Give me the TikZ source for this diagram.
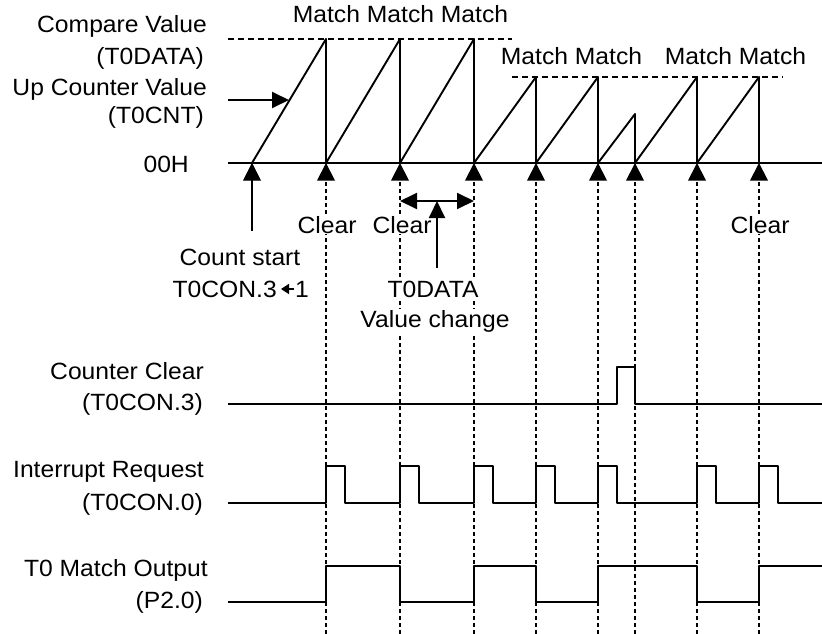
\documentclass[tikz,border=0pt]{standalone}
\usepackage{fontspec}
\setmainfont{Liberation Sans}[FakeStretch=1.05]
\usetikzlibrary{arrows.meta}
\begin{document}
\begin{tikzpicture}[x=1pt,y=-1pt,
  sig/.style={line width=1.9pt, line join=round},
  vgrid/.style={line width=1.6pt, dash pattern=on 4pt off 3pt},
  hgrid/.style={line width=1.6pt, dash pattern=on 6pt off 4pt},
  lbl/.style={font=\fontsize{23.5}{28}\selectfont, inner sep=0pt},
  wlbl/.style={lbl, fill=white, inner sep=1pt},
  bigtip/.style={-{Triangle[length=17pt,width=16pt]}},
  bigtips/.style={{Triangle[length=17pt,width=16pt]}-{Triangle[length=17pt,width=16pt]}},
  smalltip/.style={-{Triangle[length=8pt,width=10pt]}}]
\useasboundingbox (0,0) rectangle (822,634);

% event coordinates on the 00H axis
\foreach \n/\x in {0/252,1/326,2/400,3/474,4/536,5/598,6/635,7/697,8/759}{
  \coordinate (e\n) at (\x,163);
}
% dashed vertical guides
\foreach \n in {1,...,8}{
  \draw[vgrid] ([yshift=-19pt]e\n) -- ([yshift=-471pt]e\n);
}
% compare value levels
\coordinate (cmpA) at (228,39);
\coordinate (cmpB) at (512,39);
\coordinate (cmpC) at (512,77);
\coordinate (cmpD) at (783,77);
\draw[hgrid] (cmpA) -- (cmpB);
\draw[hgrid] (cmpC) -- (cmpD);

% axis and counter ramp
\coordinate (axL) at (228,163);
\coordinate (axR) at (822,163);
\draw[sig] (axL) -- (axR);
\draw[sig] (252,163) -- (326,39) -- (326,163) -- (400,39) -- (400,163)
  -- (474,39) -- (474,163) -- (536,77) -- (536,163) -- (598,77) -- (598,163)
  -- (635,114) -- (635,163) -- (697,77) -- (697,163) -- (759,77) -- (759,163);

% up triangles under the axis
\foreach \n in {0,...,8}{
  \fill (e\n) -- ++(-9,17.5) -- ++(18,0) -- cycle;
}

% labels left
\node[lbl, anchor=base east] (cv) at (207,33) {Compare Value};
\node[lbl, anchor=base east] (cvd) at (204,64.5) {(T0DATA)};
\node[lbl, anchor=base east] (uc) at (207,95.5) {Up Counter Value};
\node[lbl, anchor=base east] (ucd) at (204,123.5) {(T0CNT)};
\node[lbl, anchor=base east] (zero) at (189,172) {00H};

% match labels
\node[lbl, anchor=base] (m1) at (400.5,23) {Match Match Match};
\node[lbl, anchor=base] (m2) at (571.5,65) {Match Match};
\node[lbl, anchor=base] (m3) at (735.5,65) {Match Match};

% clear labels
\node[wlbl, anchor=base] (c1) at (327,233) {Clear};
\node[wlbl, anchor=base] (c2) at (402,233) {Clear};
\node[wlbl, anchor=base] (c3) at (760,233) {Clear};

% count start
\node[lbl, anchor=base] (cs1) at (240,265) {Count start};
\node[lbl, anchor=base east] (cs2) at (277,297) {T0CON.3};
\node[lbl, anchor=base west] (cs3) at (295,297) {1};
\coordinate (saR) at (294,289);
\coordinate (saL) at (281,289);
\draw[line width=1.6pt, smalltip] (saR) -- (saL);
\coordinate (csA) at (252,231);
\draw[line width=1.9pt, bigtip] (csA) -- (e0);

% T0DATA value change
\node[wlbl, anchor=base] (td1) at (433,297) {T0DATA};
\node[wlbl, anchor=base] (td2) at (435,327) {Value change};
\coordinate (dL) at (400,201);
\coordinate (dR) at (474,201);
\coordinate (dM) at (437,201);
\coordinate (dB) at (437,268);
\draw[line width=1.9pt, bigtips] (dL) -- (dR);
\draw[line width=1.9pt, bigtip] (dB) -- (dM);

% arrow to the ramp
\coordinate (ucA) at (228,100);
\coordinate (ucB) at (289,100);
\draw[line width=1.9pt, bigtip] (ucA) -- (ucB);

% lower labels
\node[lbl, anchor=base east] (cc) at (204,379) {Counter Clear};
\node[lbl, anchor=base east] (ccd) at (203,410) {(T0CON.3)};
\node[lbl, anchor=base east] (ir) at (204,477) {Interrupt Request};
\node[lbl, anchor=base east] (ird) at (203,510) {(T0CON.0)};
\node[lbl, anchor=base east] (mo) at (208,576) {T0 Match Output};
\node[lbl, anchor=base east] (mod) at (203,608) {(P2.0)};

% waveforms
\draw[sig] (228,404) -- (617,404) -- (617,367) -- (635,367) -- (635,404) -- (822,404);
\draw[sig] (228,503) -- (326,503) -- (326,466) -- (345,466) -- (345,503)
  -- (400,503) -- (400,466) -- (419,466) -- (419,503)
  -- (474,503) -- (474,466) -- (493,466) -- (493,503)
  -- (536,503) -- (536,466) -- (555,466) -- (555,503)
  -- (598,503) -- (598,466) -- (617,466) -- (617,503)
  -- (697,503) -- (697,466) -- (716,466) -- (716,503)
  -- (759,503) -- (759,466) -- (778,466) -- (778,503) -- (822,503);
\draw[sig] (228,602) -- (326,602) -- (326,566) -- (400,566) -- (400,602)
  -- (474,602) -- (474,566) -- (536,566) -- (536,602)
  -- (598,602) -- (598,566) -- (697,566) -- (697,602)
  -- (759,602) -- (759,566) -- (822,566);
\end{tikzpicture}
\end{document}
